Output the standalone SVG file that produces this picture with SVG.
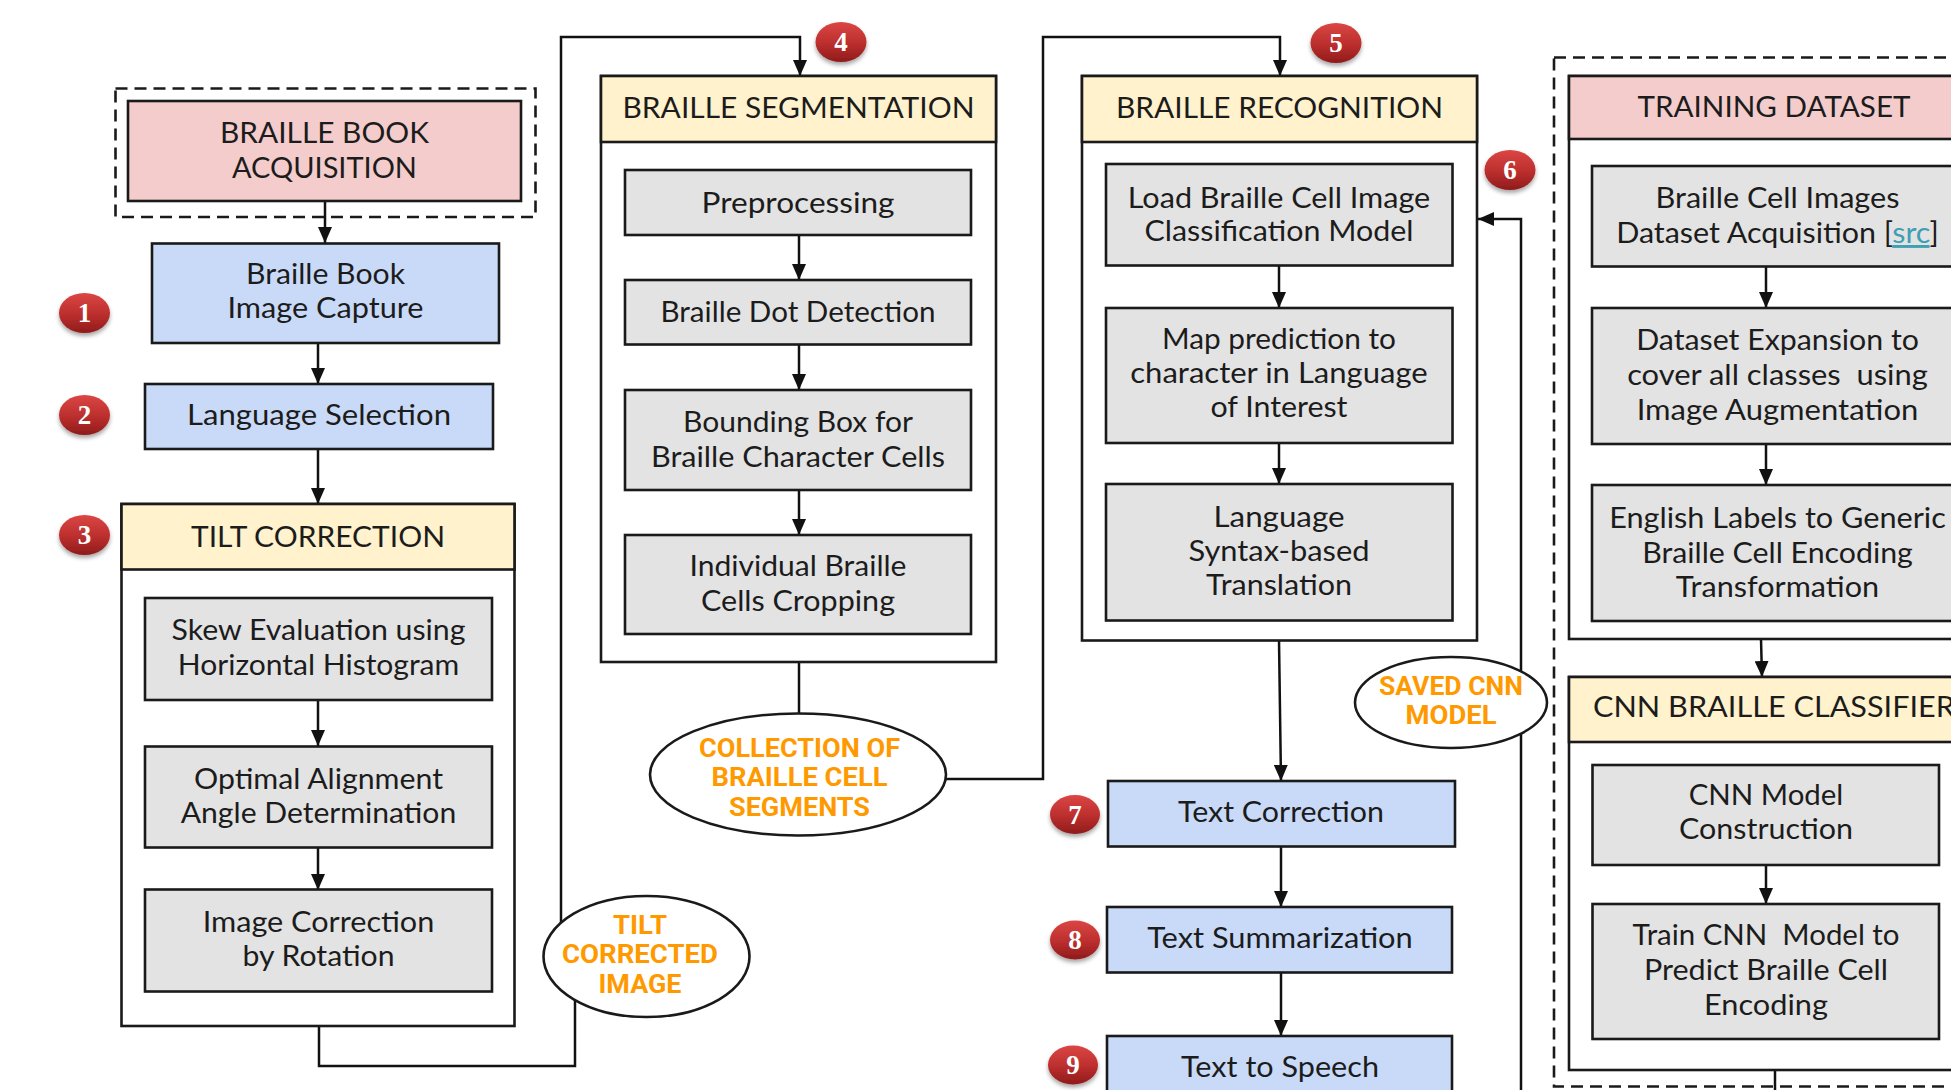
<svg xmlns="http://www.w3.org/2000/svg" width="1951" height="1090" viewBox="0 0 1951 1090">
<style>
.bx{stroke:#1a1a1a;stroke-width:2.6}
.pink{fill:#f4cccc}.blue{fill:#c9daf8}.yel{fill:#fff2cc}.gray{fill:#e3e3e3}.wht{fill:#ffffff}.none{fill:none}
.dash{fill:none;stroke:#1a1a1a;stroke-width:2.6;stroke-dasharray:12 7}
.ln{fill:none;stroke:#111;stroke-width:2.5}
.t{font-family:Lato,"Open Sans",sans-serif;font-size:29px;fill:#1c1c1c;text-anchor:middle;white-space:pre}
.o{font-family:Roboto,"Liberation Sans",sans-serif;font-weight:bold;font-size:25px;fill:#ff9900;text-anchor:middle}
.n{font-family:"Liberation Serif","Times New Roman",serif;font-weight:bold;font-size:27px;fill:#ffffff;text-anchor:middle}
.bd{fill:url(#rg);filter:url(#sh)}
</style>
<defs>
<marker id="ah" viewBox="0 0 16 14" markerWidth="16" markerHeight="14" refX="16" refY="7" orient="auto" markerUnits="userSpaceOnUse">
<path d="M0,0 L16,7 L0,14 z" fill="#111"/>
</marker>
<linearGradient id="rg" x1="0" y1="0" x2="0" y2="1">
<stop offset="0" stop-color="#db4644"/>
<stop offset="0.55" stop-color="#bb2e2d"/>
<stop offset="1" stop-color="#8f1b1b"/>
</linearGradient>
<filter id="sh" x="-30%" y="-30%" width="160%" height="180%">
<feDropShadow dx="0" dy="3" stdDeviation="2" flood-color="#000" flood-opacity="0.35"/>
</filter>
</defs>

<g id="connectors">
<line class="ln" x1="325" y1="201" x2="325" y2="243" marker-end="url(#ah)"/>
<line class="ln" x1="318" y1="343" x2="318" y2="384" marker-end="url(#ah)"/>
<line class="ln" x1="318" y1="449" x2="318" y2="504" marker-end="url(#ah)"/>
<line class="ln" x1="318" y1="700" x2="318" y2="746" marker-end="url(#ah)"/>
<line class="ln" x1="318" y1="848" x2="318" y2="890" marker-end="url(#ah)"/>
<path class="ln" d="M319,1026 V1066 H575 V990 L561,930 V37 H800 V76" marker-end="url(#ah)"/>
<line class="ln" x1="799" y1="235" x2="799" y2="280" marker-end="url(#ah)"/>
<line class="ln" x1="799" y1="345" x2="799" y2="390" marker-end="url(#ah)"/>
<line class="ln" x1="799" y1="490" x2="799" y2="535" marker-end="url(#ah)"/>
<line class="ln" x1="799" y1="662" x2="799" y2="714"/>
<path class="ln" d="M946,779 H1043 V37 H1280 V76" marker-end="url(#ah)"/>
<line class="ln" x1="1279" y1="266" x2="1279" y2="308" marker-end="url(#ah)"/>
<line class="ln" x1="1279" y1="443" x2="1279" y2="484" marker-end="url(#ah)"/>
<line class="ln" x1="1279" y1="640" x2="1281" y2="781" marker-end="url(#ah)"/>
<line class="ln" x1="1281" y1="847" x2="1281" y2="907" marker-end="url(#ah)"/>
<line class="ln" x1="1281" y1="973" x2="1281" y2="1036" marker-end="url(#ah)"/>
<path class="ln" d="M1521,1090 V219 H1478" marker-end="url(#ah)"/>
<line class="ln" x1="1766" y1="267" x2="1766" y2="308" marker-end="url(#ah)"/>
<line class="ln" x1="1766" y1="444" x2="1766" y2="485" marker-end="url(#ah)"/>
<line class="ln" x1="1761" y1="639" x2="1762" y2="677" marker-end="url(#ah)"/>
<line class="ln" x1="1766" y1="865" x2="1766" y2="904" marker-end="url(#ah)"/>
<line class="ln" x1="1775" y1="1070" x2="1775" y2="1090"/>
</g>

<g id="acquisition">
<rect class="dash" x="115.5" y="88.5" width="420" height="128.5"/>
<rect class="bx pink" x="128" y="101" width="393" height="100"/>
<text class="t" x="324.5" y="143" textLength="209" lengthAdjust="spacingAndGlyphs">BRAILLE BOOK</text>
<text class="t" x="324.5" y="177.5" textLength="185" lengthAdjust="spacingAndGlyphs">ACQUISITION</text>
</g>

<g id="image-capture">
<rect class="bx blue" x="152" y="243.5" width="347" height="99.5"/>
<text class="t" x="325.5" y="284" textLength="159" lengthAdjust="spacingAndGlyphs">Braille Book</text>
<text class="t" x="325.5" y="318" textLength="196" lengthAdjust="spacingAndGlyphs">Image Capture</text>
</g>

<g id="language-selection">
<rect class="bx blue" x="145" y="384" width="348" height="65"/>
<text class="t" x="319" y="425" textLength="264" lengthAdjust="spacingAndGlyphs">Language Selection</text>
</g>

<g id="tilt-correction">
<rect class="bx none" x="121.5" y="504" width="393" height="522"/>
<rect class="bx yel" x="121.5" y="504" width="393" height="65.5"/>
<text class="t" x="318" y="547" textLength="254" lengthAdjust="spacingAndGlyphs">TILT CORRECTION</text>
</g>
<g id="skew">
<rect class="bx gray" x="145" y="598" width="347" height="102"/>
<text class="t" x="318.5" y="640" textLength="294" lengthAdjust="spacingAndGlyphs">Skew Evaluation using</text>
<text class="t" x="318.5" y="674.5" textLength="281.5" lengthAdjust="spacingAndGlyphs">Horizontal Histogram</text>
</g>
<g id="optimal">
<rect class="bx gray" x="145" y="746.5" width="347" height="101"/>
<text class="t" x="318.5" y="789" textLength="249" lengthAdjust="spacingAndGlyphs">Optimal Alignment</text>
<text class="t" x="318.5" y="823" textLength="275.5" lengthAdjust="spacingAndGlyphs">Angle Determination</text>
</g>
<g id="rotation">
<rect class="bx gray" x="145" y="889.5" width="347" height="102"/>
<text class="t" x="318.5" y="932.4" textLength="231.6" lengthAdjust="spacingAndGlyphs">Image Correction</text>
<text class="t" x="318.5" y="966" textLength="152" lengthAdjust="spacingAndGlyphs">by Rotation</text>
</g>

<g id="tilt-corrected-image">
<ellipse class="bx wht" cx="646.5" cy="956.5" rx="103" ry="60.5"/>
<text class="o" x="640" y="934" textLength="54" lengthAdjust="spacingAndGlyphs">TILT</text>
<text class="o" x="640" y="963" textLength="156" lengthAdjust="spacingAndGlyphs">CORRECTED</text>
<text class="o" x="640" y="993" textLength="83" lengthAdjust="spacingAndGlyphs">IMAGE</text>
</g>

<g id="braille-segmentation">
<rect class="bx none" x="601" y="76" width="395" height="586"/>
<rect class="bx yel" x="601" y="76" width="395" height="66"/>
<text class="t" x="798.5" y="118" textLength="352" lengthAdjust="spacingAndGlyphs">BRAILLE SEGMENTATION</text>
</g>
<g id="preprocessing">
<rect class="bx gray" x="625" y="170" width="346" height="65"/>
<text class="t" x="798" y="213" textLength="193" lengthAdjust="spacingAndGlyphs">Preprocessing</text>
</g>
<g id="dot-detection">
<rect class="bx gray" x="625" y="280" width="346" height="64.5"/>
<text class="t" x="798" y="322" textLength="275" lengthAdjust="spacingAndGlyphs">Braille Dot Detection</text>
</g>
<g id="bounding-box">
<rect class="bx gray" x="625" y="390" width="346" height="100"/>
<text class="t" x="798" y="432" textLength="230" lengthAdjust="spacingAndGlyphs">Bounding Box for</text>
<text class="t" x="798" y="466.5" textLength="294" lengthAdjust="spacingAndGlyphs">Braille Character Cells</text>
</g>
<g id="cells-cropping">
<rect class="bx gray" x="625" y="535" width="346" height="99"/>
<text class="t" x="798" y="576" textLength="217" lengthAdjust="spacingAndGlyphs">Individual Braille</text>
<text class="t" x="798" y="610.7" textLength="194" lengthAdjust="spacingAndGlyphs">Cells Cropping</text>
</g>

<g id="collection-segments">
<ellipse class="bx wht" cx="798" cy="774.5" rx="148" ry="61"/>
<text class="o" x="799.5" y="756.7" textLength="201" lengthAdjust="spacingAndGlyphs">COLLECTION OF</text>
<text class="o" x="799.5" y="786" textLength="176" lengthAdjust="spacingAndGlyphs">BRAILLE CELL</text>
<text class="o" x="799.5" y="815.7" textLength="141" lengthAdjust="spacingAndGlyphs">SEGMENTS</text>
</g>

<g id="braille-recognition">
<rect class="bx none" x="1082" y="76" width="395" height="564.5"/>
<rect class="bx yel" x="1082" y="76" width="395" height="66"/>
<text class="t" x="1279.5" y="118" textLength="327" lengthAdjust="spacingAndGlyphs">BRAILLE RECOGNITION</text>
</g>
<g id="load-model">
<rect class="bx gray" x="1106" y="164" width="346.5" height="101.5"/>
<text class="t" x="1279" y="207.6" textLength="302.5" lengthAdjust="spacingAndGlyphs">Load Braille Cell Image</text>
<text class="t" x="1279" y="241" textLength="269" lengthAdjust="spacingAndGlyphs">Classification Model</text>
</g>
<g id="map-prediction">
<rect class="bx gray" x="1106" y="308" width="346.5" height="135"/>
<text class="t" x="1279" y="349" textLength="234" lengthAdjust="spacingAndGlyphs">Map prediction to</text>
<text class="t" x="1279" y="383" textLength="297.5" lengthAdjust="spacingAndGlyphs">character in Language</text>
<text class="t" x="1279" y="417" textLength="137" lengthAdjust="spacingAndGlyphs">of Interest</text>
</g>
<g id="syntax-translation">
<rect class="bx gray" x="1106" y="484" width="346.5" height="136.5"/>
<text class="t" x="1279" y="527" textLength="131" lengthAdjust="spacingAndGlyphs">Language</text>
<text class="t" x="1279" y="560.5" textLength="181" lengthAdjust="spacingAndGlyphs">Syntax-based</text>
<text class="t" x="1279" y="595" textLength="146" lengthAdjust="spacingAndGlyphs">Translation</text>
</g>

<g id="saved-cnn-model">
<ellipse class="bx wht" cx="1451" cy="702.5" rx="96" ry="45.5"/>
<text class="o" x="1451" y="695" textLength="144" lengthAdjust="spacingAndGlyphs">SAVED CNN</text>
<text class="o" x="1451" y="724" textLength="91" lengthAdjust="spacingAndGlyphs">MODEL</text>
</g>

<g id="text-correction">
<rect class="bx blue" x="1108" y="781" width="347" height="65.5"/>
<text class="t" x="1281" y="821.7" textLength="206" lengthAdjust="spacingAndGlyphs">Text Correction</text>
</g>
<g id="text-summarization">
<rect class="bx blue" x="1107" y="907" width="345" height="65.5"/>
<text class="t" x="1280" y="948" textLength="265.6" lengthAdjust="spacingAndGlyphs">Text Summarization</text>
</g>
<g id="text-to-speech">
<rect class="bx blue" x="1107" y="1036" width="345" height="80"/>
<text class="t" x="1280" y="1076.7" textLength="198" lengthAdjust="spacingAndGlyphs">Text to Speech</text>
</g>

<g id="training-group">
<rect class="dash" x="1554" y="57.5" width="450" height="1029"/>
</g>
<g id="training-dataset">
<rect class="bx none" x="1569" y="76" width="430" height="563"/>
<rect class="bx pink" x="1569" y="76" width="430" height="63"/>
<text class="t" x="1774" y="117" textLength="273" lengthAdjust="spacingAndGlyphs">TRAINING DATASET</text>
</g>
<g id="dataset-acquisition">
<rect class="bx gray" x="1592" y="166" width="380" height="100.5"/>
<text class="t" x="1777.5" y="207.6" textLength="244" lengthAdjust="spacingAndGlyphs">Braille Cell Images</text>
<text class="t" x="1777.5" y="243" textLength="322.7" lengthAdjust="spacingAndGlyphs">Dataset Acquisition [<tspan fill="#3f9fb3" text-decoration="underline">src</tspan>]</text>
</g>
<g id="dataset-expansion">
<rect class="bx gray" x="1592" y="308" width="380" height="136"/>
<text class="t" x="1777.5" y="350" textLength="282.7" lengthAdjust="spacingAndGlyphs">Dataset Expansion to</text>
<text class="t" x="1777.5" y="385" textLength="300.7" lengthAdjust="spacingAndGlyphs">cover all classes  using</text>
<text class="t" x="1777.5" y="419.6" textLength="281.7" lengthAdjust="spacingAndGlyphs">Image Augmentation</text>
</g>
<g id="label-encoding">
<rect class="bx gray" x="1592" y="485" width="380" height="136"/>
<text class="t" x="1777.5" y="527.7" textLength="336.7" lengthAdjust="spacingAndGlyphs">English Labels to Generic</text>
<text class="t" x="1777.5" y="562.5" textLength="270.7" lengthAdjust="spacingAndGlyphs">Braille Cell Encoding</text>
<text class="t" x="1777.5" y="597" textLength="203.3" lengthAdjust="spacingAndGlyphs">Transformation</text>
</g>

<g id="cnn-classifier">
<rect class="bx none" x="1569" y="677" width="430" height="393"/>
<rect class="bx yel" x="1569" y="677" width="430" height="65"/>
<text class="t" x="1593" y="716.7" style="text-anchor:start" textLength="362" lengthAdjust="spacingAndGlyphs">CNN BRAILLE CLASSIFIER</text>
</g>
<g id="cnn-construction">
<rect class="bx gray" x="1592.5" y="765" width="346.5" height="100"/>
<text class="t" x="1766" y="805" textLength="154.6" lengthAdjust="spacingAndGlyphs">CNN Model</text>
<text class="t" x="1766" y="839" textLength="174" lengthAdjust="spacingAndGlyphs">Construction</text>
</g>
<g id="cnn-training">
<rect class="bx gray" x="1592.5" y="904" width="346.5" height="135"/>
<text class="t" x="1766" y="945" textLength="267" lengthAdjust="spacingAndGlyphs">Train CNN  Model to</text>
<text class="t" x="1766" y="980" textLength="244" lengthAdjust="spacingAndGlyphs">Predict Braille Cell</text>
<text class="t" x="1766" y="1015" textLength="124" lengthAdjust="spacingAndGlyphs">Encoding</text>
</g>

<g id="badges">
<g id="badge-1"><ellipse class="bd" cx="84.5" cy="313" rx="25.5" ry="20"/><text class="n" x="84.5" y="322">1</text></g>
<g id="badge-2"><ellipse class="bd" cx="84.5" cy="415" rx="25.5" ry="20"/><text class="n" x="84.5" y="424">2</text></g>
<g id="badge-3"><ellipse class="bd" cx="84.5" cy="535" rx="25.5" ry="20"/><text class="n" x="84.5" y="544">3</text></g>
<g id="badge-4"><ellipse class="bd" cx="841" cy="42" rx="25.5" ry="20"/><text class="n" x="841" y="51">4</text></g>
<g id="badge-5"><ellipse class="bd" cx="1336" cy="43" rx="25.5" ry="20"/><text class="n" x="1336" y="52">5</text></g>
<g id="badge-6"><ellipse class="bd" cx="1510" cy="170" rx="25.5" ry="20"/><text class="n" x="1510" y="179">6</text></g>
<g id="badge-7"><ellipse class="bd" cx="1075" cy="814.5" rx="25" ry="19.5"/><text class="n" x="1075" y="823.5">7</text></g>
<g id="badge-8"><ellipse class="bd" cx="1075" cy="940" rx="25" ry="19.5"/><text class="n" x="1075" y="949">8</text></g>
<g id="badge-9"><ellipse class="bd" cx="1073" cy="1065" rx="25" ry="19.5"/><text class="n" x="1073" y="1074">9</text></g>
</g>
</svg>
